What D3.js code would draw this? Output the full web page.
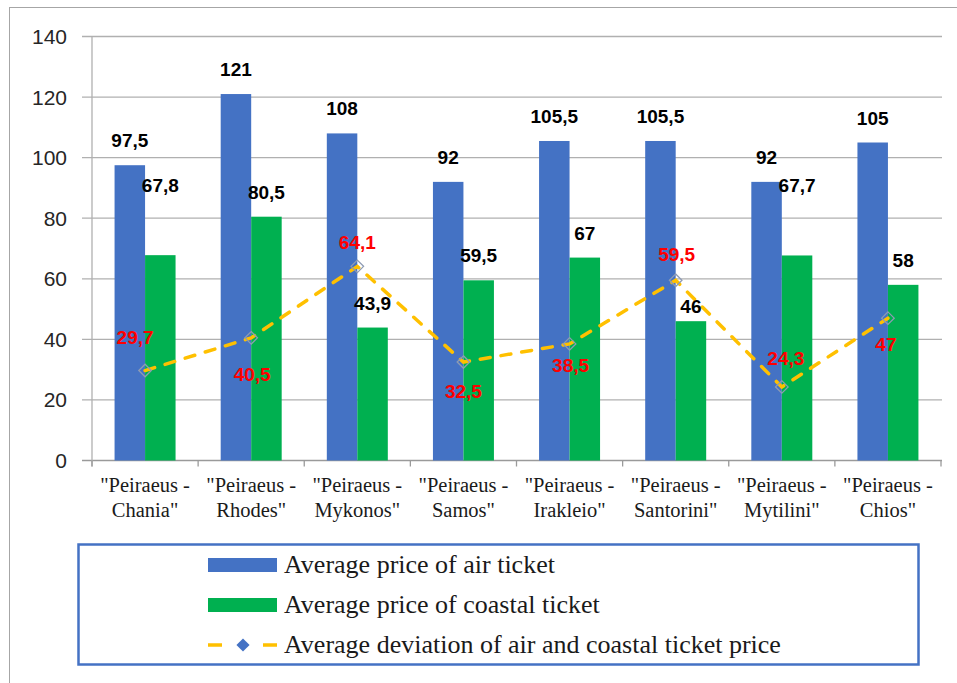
<!DOCTYPE html>
<html>
<head>
<meta charset="utf-8">
<script src="https://d3js.org/d3.v7.min.js"></script>
<style>
  html, body { margin: 0; padding: 0; background: #fff; }
  svg { display: block; }
  .cat { font-family: "Liberation Serif", "Times New Roman", serif; font-size: 20.5px; fill: #1a1a1a; }
  .leg { font-family: "Liberation Serif", "Times New Roman", serif; font-size: 26px; fill: #1a1a1a; }
  .tick { font-family: "Liberation Sans", Arial, sans-serif; font-size: 21px; fill: #262626; }
  .lbl { font-family: "Liberation Sans", Arial, sans-serif; font-size: 19px; font-weight: bold; }
</style>
</head>
<body>
<svg id="chart" width="957" height="683"></svg>
<script>
// routes (two-line category labels)
const routes = ['Chania', 'Rhodes', 'Mykonos', 'Samos', 'Irakleio', 'Santorini', 'Mytilini', 'Chios'];
const airPrice = [97.5, 121, 108, 92, 105.5, 105.5, 92, 105];
const coastalPrice = [67.8, 80.5, 43.9, 59.5, 67, 46, 67.7, 58];
const deviation = [29.7, 40.5, 64.1, 32.5, 38.5, 59.5, 24.3, 47];
const yTicks = [0, 20, 40, 60, 80, 100, 120, 140];
const seriesNames = [
    'Average price of air ticket',
    'Average price of coastal ticket',
    'Average deviation of air and coastal ticket price'
];

// label placement tweaks (px), as placed by hand in the original
const coastalLabelDy = [-45, 0, 0, 0, 0, 10, -45, 0];
const devLabelShift = [[-10, -34], [1, 36], [0, -24], [0, 29], [1, 21], [1, -26], [4, -29], [-2, 26]];

const BLUE = '#4472C4', GREEN = '#00B050', GOLD = '#FFC000', RED = '#FF0000';

const svg = d3.select('#chart');
const fmt = v => String(v).replace('.', ',');

// outer chart frame
svg.append('rect')
    .attr('x', 9.5).attr('y', 7.5)
    .attr('width', 960).attr('height', 700)
    .attr('fill', 'none').attr('stroke', '#a6a6a6').attr('stroke-width', 1);

const plot = { left: 92, right: 941, top: 36.5, bottom: 460.5 };

const x = d3.scaleBand().domain(routes).range([plot.left, plot.right]);
const x1 = d3.scaleBand().domain(['air', 'coastal']).range([0, x.bandwidth()]).paddingOuter(0.74);
const y = d3.scaleLinear().domain([0, 140]).range([plot.bottom, plot.top]);

// gridlines + y ticks
svg.append('g').selectAll('line')
    .data(yTicks)
    .join('line')
        .attr('x1', plot.left - 10).attr('x2', plot.right + 1)
        .attr('y1', d => y(d)).attr('y2', d => y(d))
        .attr('stroke', d => d === 0 ? '#9a9a9a' : '#b0b0b0')
        .attr('stroke-width', 1.3);

svg.append('line')
    .attr('x1', plot.left).attr('x2', plot.left)
    .attr('y1', y(140)).attr('y2', plot.bottom + 6)
    .attr('stroke', '#b0b0b0').attr('stroke-width', 1.3);

svg.append('g').selectAll('text')
    .data(yTicks)
    .join('text')
        .attr('class', 'tick')
        .attr('x', 67).attr('y', d => y(d) + 7.5)
        .attr('text-anchor', 'end')
        .text(d => d);

// x tick marks at band boundaries
svg.append('g').selectAll('line')
    .data(routes.map(r => x(r) + x.bandwidth()).concat([plot.left]))
    .join('line')
        .attr('x1', d => d).attr('x2', d => d)
        .attr('y1', plot.bottom).attr('y2', plot.bottom + 6)
        .attr('stroke', '#9a9a9a').attr('stroke-width', 1.3);

// category labels, two lines each
const catG = svg.append('g');
catG.selectAll('text.l1')
    .data(routes)
    .join('text')
        .attr('class', 'cat l1')
        .attr('text-anchor', 'middle')
        .attr('x', d => x(d) + x.bandwidth() / 2).attr('y', 492)
        .text('"Peiraeus -');
catG.selectAll('text.l2')
    .data(routes)
    .join('text')
        .attr('class', 'cat l2')
        .attr('text-anchor', 'middle')
        .attr('x', d => x(d) + x.bandwidth() / 2).attr('y', 517)
        .text(d => d + '"');

// bars
const rows = routes.map((r, i) => ({ route: r, air: airPrice[i], coastal: coastalPrice[i], dev: deviation[i], i }));

const barG = svg.append('g');
barG.selectAll('rect.air')
    .data(rows)
    .join('rect')
        .attr('class', 'air')
        .attr('x', d => x(d.route) + x1('air'))
        .attr('width', x1.bandwidth())
        .attr('y', d => y(d.air))
        .attr('height', d => y(0) - y(d.air))
        .attr('fill', BLUE);
barG.selectAll('rect.coastal')
    .data(rows)
    .join('rect')
        .attr('class', 'coastal')
        .attr('x', d => x(d.route) + x1('coastal'))
        .attr('width', x1.bandwidth())
        .attr('y', d => y(d.coastal))
        .attr('height', d => y(0) - y(d.coastal))
        .attr('fill', GREEN);

// deviation line
const cx = d => x(d.route) + x.bandwidth() / 2;
const line = d3.line().x(cx).y(d => y(d.dev));
svg.append('path')
    .datum(rows)
    .attr('d', line)
    .attr('fill', 'none')
    .attr('stroke', GOLD)
    .attr('stroke-width', 3.5)
    .attr('stroke-dasharray', '10,11')
    .attr('stroke-linecap', 'round');

svg.append('g').selectAll('path')
    .data(rows)
    .join('path')
        .attr('d', d3.symbol(d3.symbolDiamond2, 100))
        .attr('transform', d => `translate(${cx(d)},${y(d.dev)})`)
        .attr('fill', 'none')
        .attr('stroke', '#8e9bb3')
        .attr('stroke-width', 1.3);

// data labels
const lab = svg.append('g').attr('text-anchor', 'middle');

lab.selectAll('text.air')
    .data(rows)
    .join('text')
        .attr('class', 'lbl air')
        .attr('x', d => x(d.route) + x1('air') + x1.bandwidth() / 2)
        .attr('y', d => y(d.air) - 18)
        .attr('fill', '#000')
        .text(d => fmt(d.air));

lab.selectAll('text.coastal')
    .data(rows)
    .join('text')
        .attr('class', 'lbl coastal')
        .attr('x', d => x(d.route) + x1('coastal') + x1.bandwidth() / 2)
        .attr('y', d => y(d.coastal) - 18 + coastalLabelDy[d.i])
        .attr('fill', '#000')
        .text(d => fmt(d.coastal));

lab.selectAll('text.dev')
    .data(rows)
    .join('text')
        .attr('class', 'lbl dev')
        .attr('x', d => cx(d) + devLabelShift[d.i][0])
        .attr('y', d => y(d.dev) + devLabelShift[d.i][1] + 7)
        .attr('fill', RED)
        .text(d => fmt(d.dev));

// legend
const legend = svg.append('g');
legend.append('rect')
    .attr('x', 78.5).attr('y', 544.5)
    .attr('width', 840).attr('height', 120)
    .attr('fill', '#fff')
    .attr('stroke', BLUE).attr('stroke-width', 2.5);

const rowY = [565, 605, 645];
legend.append('rect')
    .attr('x', 208).attr('y', rowY[0] - 7).attr('width', 69).attr('height', 14)
    .attr('fill', BLUE);
legend.append('rect')
    .attr('x', 208).attr('y', rowY[1] - 7).attr('width', 69).attr('height', 14)
    .attr('fill', GREEN);
legend.append('line')
    .attr('x1', 208).attr('x2', 277)
    .attr('y1', rowY[2]).attr('y2', rowY[2])
    .attr('stroke', GOLD).attr('stroke-width', 3.5)
    .attr('stroke-dasharray', '14,41');
legend.append('path')
    .attr('d', d3.symbol(d3.symbolDiamond2, 110))
    .attr('transform', `translate(243,${rowY[2]})`)
    .attr('fill', BLUE);

legend.selectAll('text')
    .data(seriesNames)
    .join('text')
        .attr('class', 'leg')
        .attr('x', 284)
        .attr('y', (d, i) => rowY[i] + 8)
        .text(d => d);
</script>
</body>
</html>
